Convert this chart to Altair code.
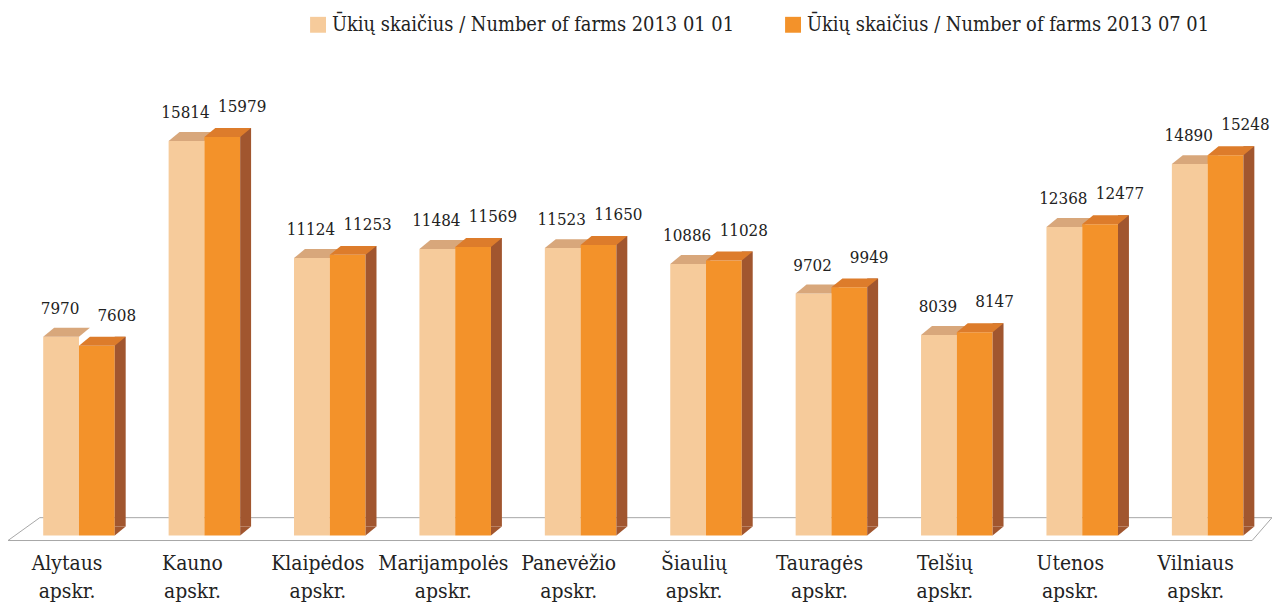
import altair as alt
import pandas as pd

regions = ["Alytaus apskr.", "Kauno apskr.", "Klaipėdos apskr.", "Marijampolės apskr.",
           "Panevėžio apskr.", "Šiaulių apskr.", "Tauragės apskr.", "Telšių apskr.",
           "Utenos apskr.", "Vilniaus apskr."]
series = ["Ūkių skaičius  / Number of farms 2013 01 01",
          "Ūkių skaičius / Number of farms 2013 07 01"]
farms_2013_01 = [7970, 15814, 11124, 11484, 11523, 10886, 9702, 8039, 12368, 14890]
farms_2013_07 = [7608, 15979, 11253, 11569, 11650, 11028, 9949, 8147, 12477, 15248]

rows = []
for r, a, b in zip(regions, farms_2013_01, farms_2013_07):
    rows.append({"region": r, "series": series[0], "value": a, "zero": 0})
    rows.append({"region": r, "series": series[1], "value": b, "zero": 0})
df = pd.DataFrame(rows)

W, H = 1262, 477
FONT = "DejaVu Serif Condensed"
LIGHT, ORANGE = "#F6CB9B", "#F3922A"
LIGHT_TOP, ORANGE_TOP, SIDE = "#D8A77B", "#DD7C2B", "#A1562F"
FLOOR = "#A6A6A6"

xscale = alt.Scale(domain=regions, paddingInner=0.4258, paddingOuter=0.2129, align=0.655)
x = alt.X("region:N", scale=xscale,
          axis=alt.Axis(title=None, labelAngle=0, ticks=False, domain=False,
                        labelExpr="split(datum.label, ' ')", labelFont=FONT,
                        labelFontSize=21, labelColor="#222222", labelLineHeight=28,
                        labelPadding=17, labelOffset=-12))
yscale = alt.Scale(domain=[0, 19000], nice=False)
y = alt.Y("value:Q", scale=yscale, axis=None)
y0 = alt.Y("zero:Q", scale=yscale, axis=None)
color = alt.Color("series:N", scale=alt.Scale(domain=series, range=[LIGHT, ORANGE]),
                  legend=alt.Legend(title=None, orient="none", direction="horizontal",
                                    legendX=302, legendY=-47, padding=0,
                                    symbolType="square", symbolSize=256,
                                    symbolStrokeWidth=0, symbolOpacity=1,
                                    labelFont=FONT, labelFontSize=20, labelColor="#222222",
                                    labelOffset=4, columnPadding=43, labelLimit=600))

base = alt.Chart(df)
light = base.transform_filter(alt.datum.series == series[0])
orange = base.transform_filter(alt.datum.series == series[1])
one = light.transform_filter(alt.datum.region == regions[0])

def floor_line(x1, x2, y1, y2):
    return one.mark_rule(color=FLOOR, strokeWidth=1).encode(
        x=alt.value(x1), x2=alt.value(x2), y=alt.value(y1), y2=alt.value(y2))

floor = [
    floor_line(0, 1252, H + 5, H + 5),
    floor_line(32, 1272, H - 18, H - 18),
    floor_line(0, 32, H + 5, H - 18),
    floor_line(1252, 1272, H + 5, H - 18),
]

face_path = "M-18,0L-7,-9L29,-9L18,0Z"
tri_path = "M0,0L11,-9L0,-9Z"

light_bars = light.mark_bar(width=36, xOffset=-18).encode(x=x, y=y, color=color)
light_top = light.mark_point(shape=face_path, size=4, filled=True, opacity=1,
                             strokeWidth=0, xOffset=-18, color=LIGHT_TOP).encode(x=x, y=y)
orange_bars = orange.mark_bar(width=36, xOffset=18).encode(x=x, y=y, color=color)
orange_side = orange.mark_bar(width=11, xOffset=41.5, yOffset=-9, y2Offset=-9,
                              color=SIDE).encode(x=x, y=y)
orange_tri = orange.mark_point(shape=tri_path, size=4, filled=True, opacity=1,
                               strokeWidth=0, xOffset=36, color=SIDE).encode(x=x, y=y0)
orange_top = orange.mark_point(shape=face_path, size=4, filled=True, opacity=1,
                               strokeWidth=0, xOffset=18, color=ORANGE_TOP).encode(x=x, y=y)

light_text = light.mark_text(font=FONT, fontSize=17, color="#222222", baseline="middle",
                             dx=-19, dy=-28).encode(x=x, y=y, text=alt.Text("value:Q", format="d"))
orange_text = orange.mark_text(font=FONT, fontSize=17, color="#222222", baseline="middle",
                               dx=38, dy=-30).encode(x=x, y=y, text=alt.Text("value:Q", format="d"))

chart = alt.layer(*floor, light_bars, light_top, orange_bars, orange_side, orange_tri,
                  orange_top, light_text, orange_text).properties(
    width=W, height=H,
    autosize=alt.AutoSizeParams(type="none"),
    padding={"left": 0, "top": 52, "right": 10, "bottom": 69},
).configure_view(stroke=None)

chart.save("out.html", embed_options={"renderer": "svg", "actions": False})
